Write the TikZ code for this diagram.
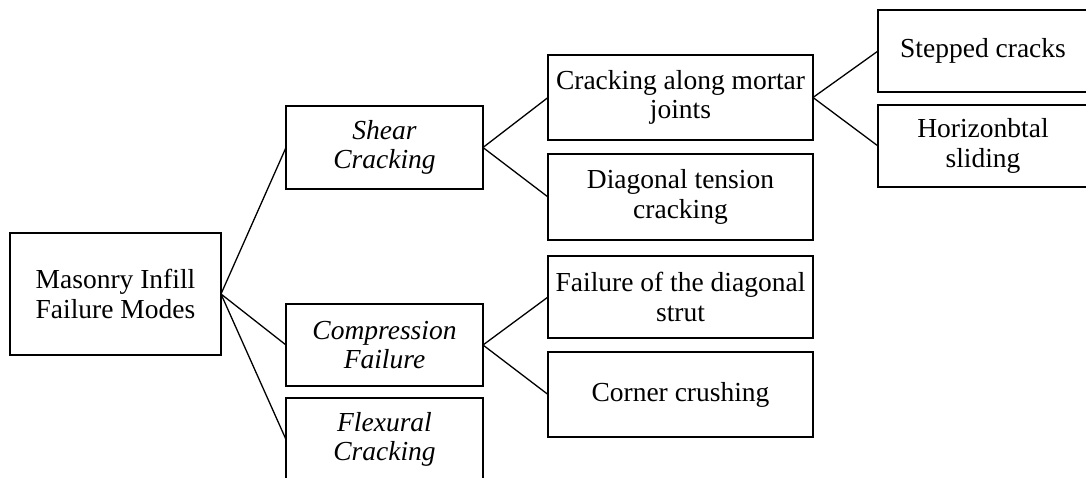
\documentclass[tikz,border=0pt]{standalone}
\usepackage{fontspec}
\setmainfont{Liberation Serif}
\begin{document}
\begin{tikzpicture}[x=1pt,y=-1pt,
  box/.style={draw=black,line width=1.5pt,rectangle,inner sep=0pt,outer sep=0pt,align=center,
    font=\fontsize{27.5}{29.5}\selectfont},
  link/.style={draw=black,line width=1.3pt}]
\useasboundingbox (0,0) rectangle (1086,477);
\node[box,minimum width=211pt,minimum height=122pt] (m) at (115.5,294) {Masonry Infill\\Failure Modes};
\node[box,minimum width=197pt,minimum height=83pt] (sh) at (384.5,147.5) {\itshape Shear\\\itshape Cracking};
\node[box,minimum width=197pt,minimum height=82pt] (co) at (384.5,345) {\itshape Compression\\\itshape Failure};
\node[box,minimum width=197pt,minimum height=83pt] (fl) at (384.5,439.5) {\itshape Flexural\\\itshape Cracking};
\node[box,minimum width=265pt,minimum height=85pt] (mo) at (680.5,97.5) {Cracking along mortar\\joints};
\node[box,minimum width=265pt,minimum height=86pt] (dt) at (680.5,197) {Diagonal tension\\cracking};
\node[box,minimum width=265pt,minimum height=82pt] (st) at (680.5,297) {Failure of the diagonal\\strut};
\node[box,minimum width=265pt,minimum height=85pt] (cc) at (680.5,394.5) {Corner crushing};
\node[box,minimum width=210pt,minimum height=82pt] (sc) at (983,51) {Stepped cracks};
\node[box,minimum width=210pt,minimum height=82pt] (hs) at (983,146) {Horizonbtal\\sliding};
\draw[link] (m.east) -- (sh.west);
\draw[link] (m.east) -- (co.west);
\draw[link] (m.east) -- (fl.west);
\draw[link] (sh.east) -- (mo.west);
\draw[link] (sh.east) -- (dt.west);
\draw[link] (co.east) -- (st.west);
\draw[link] (co.east) -- (cc.west);
\draw[link] (mo.east) -- (sc.west);
\draw[link] (mo.east) -- (hs.west);
\end{tikzpicture}
\end{document}
